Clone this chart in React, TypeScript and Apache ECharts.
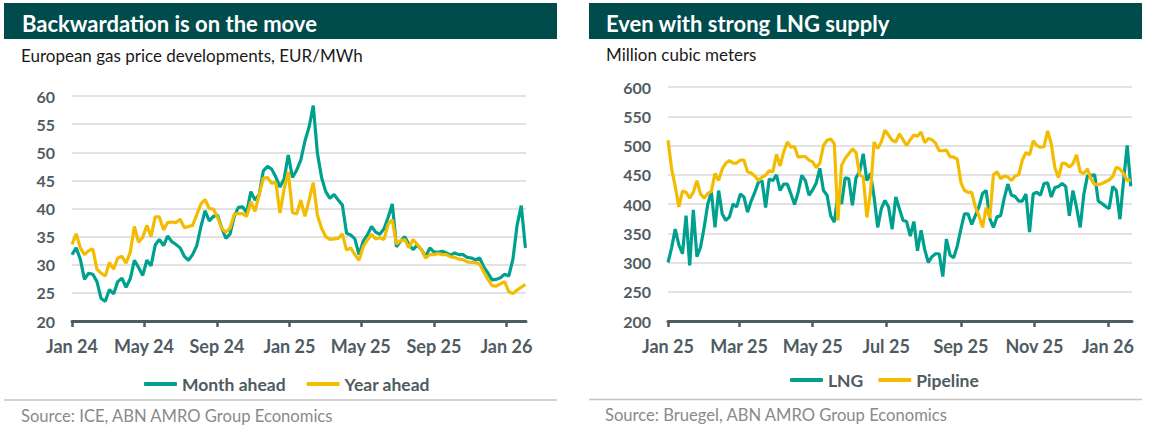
import React, { useEffect, useRef } from "react";
import * as echarts from "echarts";

const DAY = 86400000;
const toTs = (s: string) => new Date(s + "T00:00:00Z").getTime();
const MONTHS = ["Jan", "Feb", "Mar", "Apr", "May", "Jun", "Jul", "Aug", "Sep", "Oct", "Nov", "Dec"];

// ---------- Left chart: European gas prices (weekly samples from 2024-01-01) ----------
const priceStart = "2024-01-01";
const priceStepDays = 7;
const monthAhead = [
  31.8, 33.0, 31.0, 27.4, 28.5, 28.3, 27.0, 24.0, 23.5, 25.6,
  24.8, 27.0, 27.6, 26.0, 27.5, 30.8, 29.5, 28.1, 30.8, 29.8,
  33.5, 34.5, 33.4, 35.1, 34.1, 33.6, 33.0, 31.5, 30.8, 31.8,
  33.4, 36.8, 39.6, 37.8, 38.6, 38.8, 36.5, 34.7, 35.5, 38.6,
  40.2, 40.3, 39.3, 43.0, 41.5, 42.5, 46.7, 47.5, 47.0, 45.6,
  43.8, 45.3, 49.5, 45.5, 46.8, 48.6, 52.0, 54.5, 58.3, 49.8,
  45.5, 43.0, 41.8, 42.5, 41.5, 40.6, 35.6, 35.3, 34.6, 31.8,
  34.2, 35.3, 36.8, 35.8, 35.4, 36.4, 38.4, 40.8, 33.2, 34.2,
  35.0, 33.6, 32.7, 33.5, 32.7, 31.4, 33.0, 32.3, 32.2, 32.4,
  32.1, 31.7, 32.1, 31.8, 31.8, 31.3, 31.2, 30.9, 31.2, 29.6,
  28.5, 27.3, 27.4, 27.7, 28.3, 28.0, 31.0, 37.0, 40.5, 33.0,
];
const yearAhead = [
  33.6, 35.5, 33.0, 31.8, 32.5, 32.8, 29.2, 28.5, 28.0, 30.4,
  29.2, 31.2, 31.5, 30.3, 32.2, 36.8, 34.0, 34.9, 37.0, 35.0,
  38.5, 38.5, 36.2, 37.5, 37.6, 37.5, 38.1, 36.6, 36.8, 37.0,
  38.9, 40.8, 41.6, 40.0, 39.9, 38.4, 36.4, 35.8, 36.5, 39.0,
  39.1, 39.1, 38.6, 41.2, 39.5, 42.5, 45.4, 45.5, 44.5, 44.6,
  39.2, 43.5, 46.5, 39.3, 39.0, 41.5, 38.6, 41.5, 44.6, 38.8,
  36.5, 35.0, 34.5, 34.6, 34.7, 35.5, 32.6, 33.0, 31.8, 30.8,
  33.2, 34.4, 35.4, 34.6, 34.8, 34.5, 37.2, 38.0, 33.7, 34.3,
  34.5, 33.0, 34.5, 33.6, 32.7, 31.2, 31.8, 31.8, 32.0, 31.8,
  31.8, 31.4, 31.3, 31.0, 30.9, 30.5, 30.4, 30.4, 30.1, 28.7,
  27.4, 26.3, 26.2, 26.6, 27.0, 25.2, 24.9, 25.5, 26.0, 26.5,
];
const priceTicks = ["2024-01-01", "2024-05-01", "2024-09-01", "2025-01-01", "2025-05-01", "2025-09-01", "2026-01-01"];
const priceAxisEnd = "2026-02-03";

// ---------- Right chart: gas supply (3-day samples from 2025-01-01) ----------
const supplyStart = "2025-01-01";
const supplyStepDays = 3;
const lng = [
  300, 325, 357, 330, 315, 380, 295, 390, 310, 326,
  360, 400, 420, 360, 423, 383, 372, 378, 400, 395,
  417, 412, 386, 405, 420, 437, 440, 394, 443, 440,
  450, 423, 434, 434, 417, 399, 420, 449, 440, 415,
  424, 436, 461, 423, 415, 380, 369, 416, 400, 445,
  443, 398, 445, 455, 486, 440, 452, 412, 360, 392,
  406, 395, 357, 412, 392, 372, 370, 345, 370, 320,
  355, 322, 300, 310, 315, 315, 276, 340, 313, 308,
  328, 357, 383, 383, 365, 380, 395, 418, 423, 375,
  360, 378, 380, 410, 434, 415, 413, 405, 405, 417,
  352, 417, 420, 415, 435, 436, 412, 428, 430, 435,
  430, 380, 423, 394, 360, 416, 448, 449, 450, 405,
  401, 396, 392, 430, 423, 374, 440, 500, 430,
];
const pipeline = [
  509, 460, 430, 395, 422, 420, 410, 420, 440, 417,
  410, 418, 422, 452, 440, 460, 470, 474, 470, 470,
  475, 475, 455, 453, 448, 440, 446, 449, 457, 455,
  485, 465, 489, 506, 497, 498, 480, 481, 481, 475,
  472, 462, 470, 500, 509, 511, 503, 372, 466, 478,
  486, 494, 488, 450, 446, 377, 420, 506, 495, 506,
  526, 518, 509, 506, 520, 510, 500, 510, 518, 516,
  523, 505, 512, 510, 504, 491, 491, 492, 481, 480,
  477, 437, 423, 420, 420, 395, 380, 360, 394, 376,
  450, 455, 443, 448, 446, 440, 448, 450, 475, 488,
  484, 508, 500, 497, 498, 525, 503, 462, 445, 470,
  469, 463, 469, 484, 455, 452, 460, 443, 433, 433,
  435, 438, 441, 447, 463, 460, 452, 440, 441,
];
const supplyTicks = ["2025-01-01", "2025-03-01", "2025-05-01", "2025-07-01", "2025-09-01", "2025-11-01", "2026-01-01"];
const supplyAxisEnd = "2026-01-21";

const TEAL = "#00A08F";
const YELLOW = "#F4BC00";
const AXIS = "#4F5B62";
const HEADER = "#004C4C";
const FONT = "Lato";

const fmtMonth = (v: number) => {
  const d = new Date(v);
  return MONTHS[d.getUTCMonth()] + " " + String(d.getUTCFullYear()).slice(2);
};

function buildSeriesData(start: string, step: number, values: number[]) {
  const s = toTs(start);
  return values.map((v, i) => [s + i * step * DAY, v]);
}

function xAxisFor(gridIndex: number, start: string, end: string, ticks: string[]) {
  const tickVals = ticks.map(toTs);
  return {
    type: "value",
    gridIndex,
    min: toTs(start),
    max: toTs(end),
    axisLine: { show: true, onZero: false, lineStyle: { color: AXIS, width: 3 } },
    axisTick: { show: true, customValues: tickVals, length: 6, lineStyle: { color: AXIS, width: 2.5 } },
    axisLabel: {
      customValues: tickVals,
      formatter: (v: number) => fmtMonth(v),
      color: AXIS,
      fontSize: 18,
      fontWeight: "bold",
      fontFamily: FONT,
      margin: 16,
      showMinLabel: true,
      showMaxLabel: true,
    },
    splitLine: { show: false },
  };
}

function yAxisFor(gridIndex: number, min: number, max: number, interval: number) {
  return {
    type: "value",
    gridIndex,
    min,
    max,
    interval,
    axisLine: { show: false },
    axisTick: { show: false },
    axisLabel: { color: AXIS, fontSize: 16, fontWeight: "bold", fontFamily: FONT, margin: 17 },
    splitLine: { show: true, lineStyle: { color: "#D9D9D9", width: 1.5 } },
  };
}

export default function App() {
  const ref = useRef<HTMLDivElement>(null);
  useEffect(() => {
    if (!ref.current) return;
    const chart = echarts.init(ref.current, undefined, { renderer: "svg" });
    const lineSeries = (name: string, color: string, data: any, idx: number) => ({
      name,
      type: "line",
      xAxisIndex: idx,
      yAxisIndex: idx,
      data,
      showSymbol: false,
      symbol: "none",
      lineStyle: { color, width: 3.2 },
      itemStyle: { color },
    });
    const legendText = { color: AXIS, fontSize: 17.5, fontWeight: "bold", fontFamily: FONT };
    chart.setOption({
      animation: false,
      backgroundColor: "#ffffff",
      grid: [
        { left: 72, top: 96, width: 454, height: 225 },
        { left: 668, top: 87, width: 464, height: 234 },
      ],
      xAxis: [
        xAxisFor(0, priceStart, priceAxisEnd, priceTicks),
        xAxisFor(1, supplyStart, supplyAxisEnd, supplyTicks),
      ],
      yAxis: [yAxisFor(0, 20, 60, 5), yAxisFor(1, 200, 600, 50)],
      legend: [
        {
          data: ["Month ahead", "Year ahead"],
          left: 144,
          top: 375,
          padding: 0,
          icon: "roundRect",
          itemWidth: 33,
          itemHeight: 4,
          itemGap: 21,
          textStyle: legendText,
          selectedMode: false,
        },
        {
          data: ["LNG", "Pipeline"],
          left: 790,
          top: 371,
          padding: 0,
          icon: "roundRect",
          itemWidth: 33,
          itemHeight: 4,
          itemGap: 15,
          textStyle: legendText,
          selectedMode: false,
        },
      ],
      series: [
        lineSeries("Month ahead", TEAL, buildSeriesData(priceStart, priceStepDays, monthAhead), 0),
        lineSeries("Year ahead", YELLOW, buildSeriesData(priceStart, priceStepDays, yearAhead), 0),
        lineSeries("LNG", TEAL, buildSeriesData(supplyStart, supplyStepDays, lng), 1),
        lineSeries("Pipeline", YELLOW, buildSeriesData(supplyStart, supplyStepDays, pipeline), 1),
      ],
      graphic: [
        { type: "rect", shape: { x: 4, y: 3, width: 553, height: 36 }, style: { fill: HEADER }, silent: true },
        { type: "rect", shape: { x: 589, y: 3, width: 553, height: 36 }, style: { fill: HEADER }, silent: true },
        {
          type: "text", x: 22, y: 23,
          style: { text: "Backwardation is on the move", fill: "#ffffff", font: `bold 22px ${FONT}`, verticalAlign: "middle" },
        },
        {
          type: "text", x: 606, y: 23,
          style: { text: "Even with strong LNG supply", fill: "#ffffff", font: `bold 22px ${FONT}`, verticalAlign: "middle" },
        },
        {
          type: "text", x: 21, y: 55,
          style: { text: "European gas price developments, EUR/MWh", fill: "#1A1A1A", font: `17px ${FONT}`, verticalAlign: "middle" },
        },
        {
          type: "text", x: 606, y: 54,
          style: { text: "Million cubic meters", fill: "#1A1A1A", font: `17px ${FONT}`, verticalAlign: "middle" },
        },
        { type: "line", shape: { x1: 4, y1: 400, x2: 557, y2: 400 }, style: { stroke: "#C4C4C4", lineWidth: 1.5 } },
        { type: "line", shape: { x1: 589, y1: 399.5, x2: 1142, y2: 399.5 }, style: { stroke: "#C4C4C4", lineWidth: 1.5 } },
        {
          type: "text", x: 21, y: 416,
          style: { text: "Source: ICE, ABN AMRO Group Economics", fill: "#8A8A8A", font: `16.6px ${FONT}`, verticalAlign: "middle" },
        },
        {
          type: "text", x: 605, y: 415,
          style: { text: "Source: Bruegel, ABN AMRO Group Economics", fill: "#8A8A8A", font: `16.6px ${FONT}`, verticalAlign: "middle" },
        },
      ],
    });
    return () => chart.dispose();
  }, []);
  return (
    <div
      ref={ref}
      style={{ position: "fixed", left: 0, top: 0, width: 1153, height: 425, background: "#fff" }}
    />
  );
}
